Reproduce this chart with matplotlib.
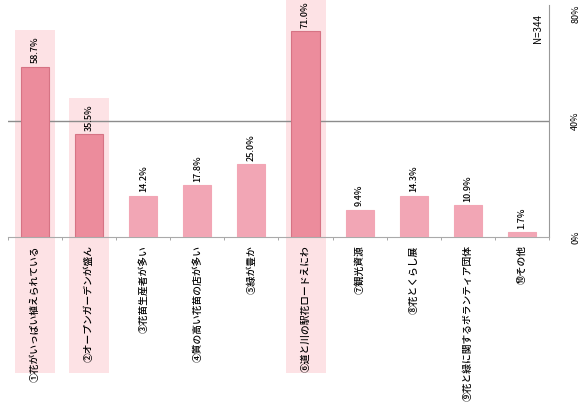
import numpy as np
import matplotlib.pyplot as plt
from matplotlib.patches import Rectangle

plt.rcParams['font.family'] = ['Noto Sans CJK JP', 'DejaVu Sans']

labels = ["①花がいっぱい植えられている", "②オープンガーデンが盛ん", "③花苗生産者が多い",
          "④質の高い花苗の店が多い", "⑤緑が豊か", "⑥道と川の駅花ロードえにわ",
          "⑦観光資源", "⑧花とくらし展", "⑨花と緑に関するボランティア団体", "⑩その他"]
values = [58.7, 35.5, 14.2, 17.8, 25.0, 71.0, 9.4, 14.3, 10.9, 1.7]
picked = [0, 1, 5]   # top answers get a pink band
n_total = 344

fig = plt.figure(figsize=(5.87, 4.12), dpi=100)
ax = fig.add_axes([0.0136, 0.4248, 0.9216, 0.5632])

x = np.arange(len(values))
colors = ['#ec8c9c' if i in picked else '#f2a6b5' for i in x]
edges = ['#d67384' if i in picked else '#f2a6b5' for i in x]
ax.bar(x, values, width=0.52, color=colors, edgecolor=edges, linewidth=0.8, zorder=3)

# pink bands behind the top answers, reaching down over the labels
for i in picked:
    top = min(values[i] + 12.5, 82)
    ax.add_patch(Rectangle((i - 0.37, -47), 0.74, top + 47, facecolor='#fde2e5',
                           edgecolor='none', clip_on=False, zorder=0))

for xi, v in zip(x, values):
    ax.text(xi, v + 1.2, f"{v:.1f}%", rotation=90, ha='center', va='bottom',
            fontsize=6.5, fontweight='medium', zorder=4)

ax.set_xlim(-0.5, len(values) - 0.5)
ax.set_ylim(0, 80)
ax.set_xticks(x)
ax.set_xticklabels(labels, rotation=90, fontsize=7, va='top', fontweight='medium')
ax.tick_params(axis='x', which='major', length=0, pad=6)
ax.set_xticks(np.arange(-0.5, len(values)), minor=True)
ax.tick_params(axis='x', which='minor', length=2, color='#999999')

ax.yaxis.tick_right()
ax.set_yticks([0, 40, 80])
ax.set_yticklabels(['0%', '40%', '80%'], rotation=90, va='center', fontsize=6.5)
ax.get_yticklabels()[-1].set_va('top')
ax.tick_params(axis='y', length=0, pad=16)
ax.axhline(40, color='#8c8c8c', lw=1, zorder=1)

ax.spines['top'].set_visible(False)
ax.spines['left'].set_visible(False)
ax.spines['right'].set_color('#999999')
ax.spines['bottom'].set_color('#aaaaaa')

ax.text(9.3, 72, f"N={n_total}", rotation=90, ha='center', va='center', fontsize=7)

fig.savefig('out.png', dpi=100)
